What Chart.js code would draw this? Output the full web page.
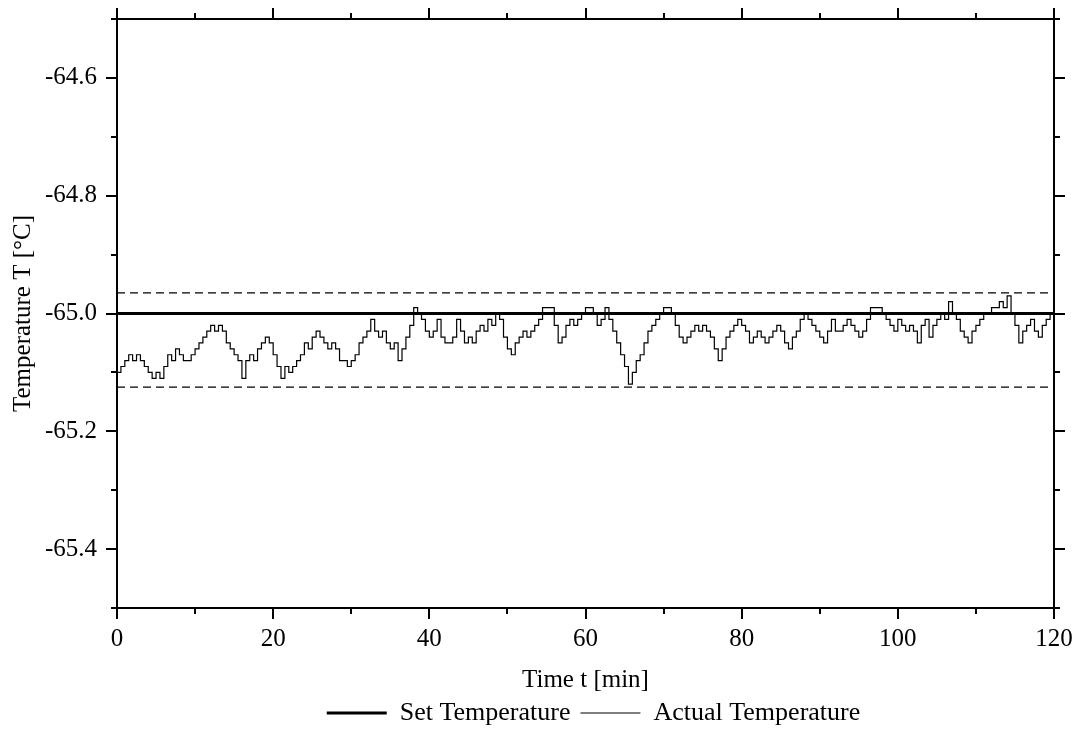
<!DOCTYPE html>
<html>
<head>
<meta charset="utf-8">
<script src="https://cdn.jsdelivr.net/npm/chart.js@4.4.0/dist/chart.umd.min.js"></script>
<style>
  html, body { margin: 0; padding: 0; background: #fff; }
</style>
</head>
<body>
<canvas id="tempChart" width="1075" height="742"></canvas>
<script>
// data (temperature in °C, one sample every 0.5 min)
const sampleStep = 0.5;
const actualTemp = [
  -65.10, -65.09, -65.08, -65.07, -65.08, -65.07, -65.08, -65.09, -65.10, -65.11,
  -65.10, -65.11, -65.09, -65.07, -65.08, -65.06, -65.07, -65.08, -65.08, -65.07,
  -65.06, -65.05, -65.04, -65.03, -65.02, -65.03, -65.02, -65.03, -65.05, -65.06,
  -65.07, -65.08, -65.11, -65.08, -65.07, -65.08, -65.06, -65.05, -65.04, -65.05,
  -65.07, -65.09, -65.11, -65.09, -65.10, -65.09, -65.08, -65.07, -65.05, -65.06,
  -65.04, -65.03, -65.04, -65.05, -65.06, -65.05, -65.06, -65.08, -65.08, -65.09,
  -65.08, -65.07, -65.05, -65.04, -65.03, -65.01, -65.03, -65.04, -65.03, -65.05,
  -65.06, -65.05, -65.08, -65.06, -65.04, -65.02, -64.99, -65.00, -65.01, -65.03,
  -65.04, -65.03, -65.01, -65.04, -65.05, -65.05, -65.04, -65.01, -65.03, -65.05,
  -65.04, -65.05, -65.03, -65.02, -65.03, -65.01, -65.02, -65.00, -65.01, -65.04,
  -65.06, -65.07, -65.05, -65.04, -65.03, -65.04, -65.03, -65.02, -65.01, -64.99,
  -64.99, -64.99, -65.02, -65.05, -65.04, -65.02, -65.01, -65.02, -65.01, -65.00,
  -64.99, -64.99, -65.00, -65.02, -65.01, -64.99, -65.01, -65.03, -65.05, -65.07,
  -65.09, -65.12, -65.10, -65.08, -65.07, -65.05, -65.03, -65.02, -65.01, -65.00,
  -64.99, -64.99, -65.00, -65.02, -65.04, -65.05, -65.04, -65.03, -65.02, -65.03,
  -65.02, -65.03, -65.04, -65.06, -65.08, -65.06, -65.04, -65.03, -65.02, -65.01,
  -65.02, -65.03, -65.05, -65.04, -65.03, -65.04, -65.05, -65.04, -65.03, -65.02,
  -65.03, -65.05, -65.06, -65.04, -65.03, -65.01, -65.00, -65.01, -65.02, -65.03,
  -65.04, -65.05, -65.03, -65.01, -65.03, -65.03, -65.02, -65.01, -65.02, -65.03,
  -65.04, -65.03, -65.01, -64.99, -64.99, -64.99, -65.00, -65.01, -65.02, -65.03,
  -65.01, -65.02, -65.03, -65.02, -65.03, -65.05, -65.02, -65.01, -65.04, -65.02,
  -65.01, -65.00, -65.01, -64.98, -65.00, -65.01, -65.03, -65.04, -65.05, -65.03,
  -65.02, -65.01, -65.00, -65.00, -64.99, -64.99, -64.98, -64.99, -64.97, -65.00,
  -65.02, -65.05, -65.03, -65.02, -65.01, -65.03, -65.04, -65.02, -65.01, -65.00,
  -65.00
];
const setTemp = -65.0;
const upperBand = -64.965;
const lowerBand = -65.125;
const timeRange = [0, 120];
const tempRange = [-65.5, -64.5];
const xTickLabels = [0, 20, 40, 60, 80, 100, 120];
const yTickLabels = [-64.6, -64.8, -65.0, -65.2, -65.4];

const serif = '"Liberation Serif", "Times New Roman", serif';

const actualPoints = actualTemp.map((v, i) => ({ x: i * sampleStep, y: v }));
const flatLine = v => timeRange.map(t => ({ x: t, y: v }));

// box frame + ticks on all four sides (major long, minor short, pointing out)
const frameTicks = {
  id: 'frameTicks',
  afterDraw(chart) {
    const { ctx, chartArea: a, scales: { x, y } } = chart;
    ctx.save();
    ctx.strokeStyle = '#000';
    ctx.lineWidth = 2;
    ctx.strokeRect(a.left, a.top, a.right - a.left, a.bottom - a.top);
    ctx.beginPath();
    x.ticks.forEach(t => {
      const px = Math.round(x.getPixelForValue(t.value));
      const len = t.label !== '' ? 11 : 6;
      ctx.moveTo(px, a.bottom); ctx.lineTo(px, a.bottom + len);
      ctx.moveTo(px, a.top); ctx.lineTo(px, a.top - len);
    });
    y.ticks.forEach(t => {
      const py = Math.round(y.getPixelForValue(t.value));
      const len = t.label !== '' ? 11 : 6;
      ctx.moveTo(a.left, py); ctx.lineTo(a.left - len, py);
      ctx.moveTo(a.right, py); ctx.lineTo(a.right + len, py);
    });
    ctx.stroke();
    ctx.restore();
  }
};

// centre the legend under the plot area rather than the whole canvas
const legendUnderPlot = {
  id: 'legendUnderPlot',
  afterLayout(chart) {
    const lg = chart.legend;
    if (!lg) return;
    lg.left = chart.chartArea.left + 8;
    lg.right = chart.chartArea.right + 8;
    lg.width = lg.right - lg.left;
  }
};

new Chart(document.getElementById('tempChart'), {
  type: 'line',
  data: {
    datasets: [
      {
        label: 'Set Temperature',
        data: flatLine(setTemp),
        borderColor: '#000',
        borderWidth: 3,
        pointRadius: 0
      },
      {
        label: 'Actual Temperature',
        data: actualPoints,
        borderColor: '#000',
        borderWidth: 1.2,
        pointRadius: 0,
        stepped: true
      },
      {
        label: 'upper',
        data: flatLine(upperBand),
        borderColor: '#000',
        borderWidth: 1.2,
        borderDash: [8, 5],
        pointRadius: 0
      },
      {
        label: 'lower',
        data: flatLine(lowerBand),
        borderColor: '#000',
        borderWidth: 1.2,
        borderDash: [8, 5],
        pointRadius: 0
      }
    ]
  },
  options: {
    responsive: false,
    animation: false,
    layout: { padding: { top: 19, right: 21, bottom: 6, left: 0 } },
    scales: {
      x: {
        type: 'linear',
        min: timeRange[0],
        max: timeRange[1],
        grid: { display: false, drawTicks: false, tickLength: 0 },
        border: { display: false },
        ticks: {
          stepSize: 10,
          padding: 16,
          maxRotation: 0,
          autoSkip: false,
          color: '#000',
          font: { family: serif, size: 25 },
          callback: v => xTickLabels.includes(v) ? String(v) : ''
        },
        title: {
          display: true,
          text: 'Time t [min]',
          color: '#000',
          font: { family: serif, size: 25, lineHeight: 0.8 },
          padding: { top: 0, bottom: 0 }
        },
        afterFit: s => {
          s.height = 82;
          s.paddingLeft = 0;
          s.paddingRight = 0;
        }
      },
      y: {
        min: tempRange[0],
        max: tempRange[1],
        grid: { display: false, drawTicks: false, tickLength: 0 },
        border: { display: false },
        ticks: {
          stepSize: 0.1,
          padding: 20,
          autoSkip: false,
          color: '#000',
          font: { family: serif, size: 25 },
          callback: v => yTickLabels.some(l => Math.abs(l - v) < 1e-6) ? v.toFixed(1) : ''
        },
        title: {
          display: true,
          text: 'Temperature T [°C]',
          color: '#000',
          font: { family: serif, size: 25, lineHeight: 1 },
          padding: { top: 11, bottom: 0 }
        },
        afterFit: s => {
          s.width = 117;
          s.paddingTop = 0;
          s.paddingBottom = 0;
        }
      }
    },
    plugins: {
      legend: {
        position: 'bottom',
        labels: {
          filter: item => item.datasetIndex < 2,
          usePointStyle: true,
          pointStyle: 'line',
          pointStyleWidth: 60,
          padding: 10,
          color: '#000',
          font: { family: serif, size: 26 }
        }
      },
      tooltip: { enabled: false }
    }
  },
  plugins: [frameTicks, legendUnderPlot]
});
</script>
</body>
</html>
